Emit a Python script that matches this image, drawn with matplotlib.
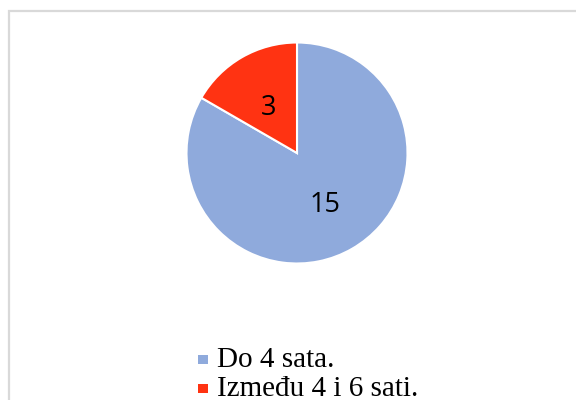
import matplotlib
matplotlib.use("Agg")
import matplotlib.pyplot as plt
from matplotlib.patches import Rectangle

labels = ["Do 4 sata.", "Između 4 i 6 sati."]
values = [15, 3]
colors = ["#8FAADC", "#FF3312"]

W, H = 576, 400
fig = plt.figure(figsize=(W / 100, H / 100), dpi=100)
fig.patch.set_facecolor("white")

# outer frame (only left/top visible, rest cropped)
fig.patches.append(Rectangle((9 / W, -0.2), 1.2, (H - 11) / H + 0.2,
                             transform=fig.transFigure, fill=False,
                             edgecolor="#D9D9D9", linewidth=1.6))

cx, cy, r = 297, 153, 110.5
ax = fig.add_axes([(cx - r) / W, (H - cy - r) / H, 2 * r / W, 2 * r / H])
total = sum(values)
wedges, texts, autotexts = ax.pie(
    values, colors=colors, startangle=90, counterclock=False,
    wedgeprops=dict(edgecolor="white", linewidth=1.5),
    autopct=lambda p: f"{round(p * total / 100):d}", pctdistance=0.51,
    textprops=dict(fontsize=19.5, family=["Open Sans", "DejaVu Sans"], color="black"))
for t in autotexts:
    t.set_va("center_baseline")
ax.set_xlim(-1, 1)
ax.set_ylim(-1, 1)
ax.set_aspect("equal")
ax.axis("off")

# legend
base0 = 367
dy = 29
for i, (lab, col) in enumerate(zip(labels, colors)):
    yb = base0 + i * dy
    yc = yb - 7.5
    fig.patches.append(Rectangle((198 / W, (H - yc - 4.5) / H), 10 / W, 9 / H,
                                 transform=fig.transFigure, facecolor=col,
                                 edgecolor="none"))
    fig.text(217 / W, (H - yb) / H, lab, ha="left", va="baseline",
             fontsize=21, family=["Liberation Serif", "DejaVu Serif"], color="black")

fig.savefig("out.png", dpi=100)
